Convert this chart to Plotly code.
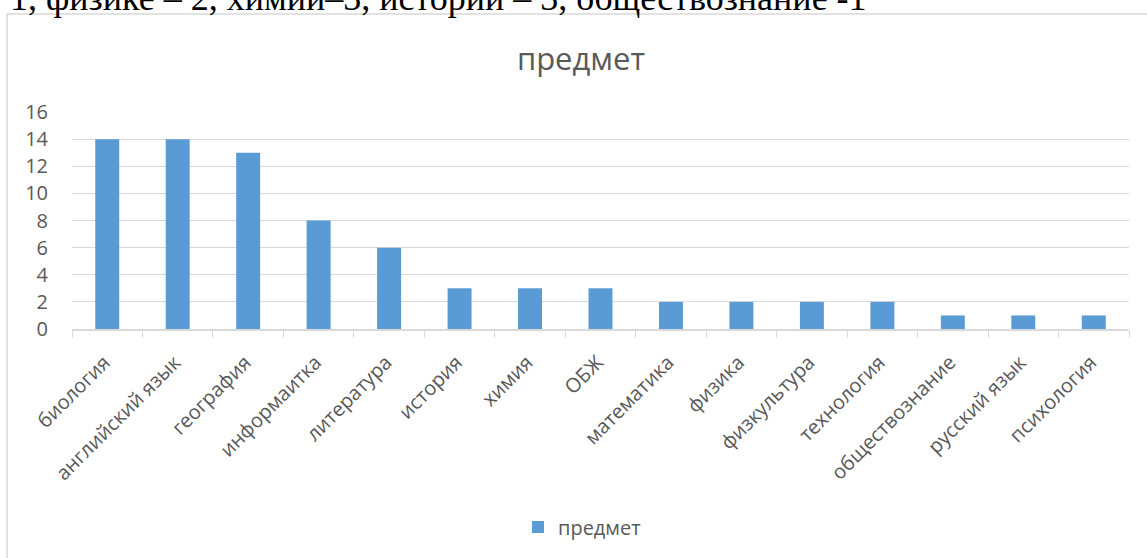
import plotly.graph_objects as go

categories = ["биология", "английский язык", "география", "информаитка", "литература",
              "история", "химия", "ОБЖ", "математика", "физика", "физкультура",
              "технология", "обществознание", "русский язык", "психология"]
values = [14, 14, 13, 8, 6, 3, 3, 3, 2, 2, 2, 2, 1, 1, 1]
series_name = "предмет"
chart_title = "предмет"
y_ticks = [0, 2, 4, 6, 8, 10, 12, 14, 16]
doc_text = "1, физике – 2, химии–3, истории – 3, обществознание -1"

W, H = 1147, 558
L, R, T, B = 72, 18, 112, 229
pw, ph = W - L - R, H - T - B

def px_x(x):
    return (x - L) / pw

def px_y(y):
    return (H - B - y) / ph

gray = "#595959"
grid = "#d9d9d9"

fig = go.Figure()
fig.add_trace(go.Bar(x=categories, y=values, name=series_name,
                     marker=dict(color="#5b9bd5", line=dict(width=0)),
                     showlegend=True))

fig.update_layout(
    width=W, height=H,
    margin=dict(l=L, r=R, t=T, b=B, autoexpand=False),
    paper_bgcolor="white", plot_bgcolor="white",
    bargap=0.66,
    font=dict(family="Open Sans", color=gray),
    showlegend=True,
    legend=dict(orientation="h", x=px_x(582), xanchor="center", xref="paper",
                y=px_y(527), yanchor="middle",
                font=dict(family="Open Sans", size=20, color=gray)),
    title=dict(text=chart_title, x=px_x(581), xanchor="center", xref="paper",
               y=1 - 59 / H, yanchor="middle",
               font=dict(family="Open Sans", size=31, color=gray)),
)

fig.update_xaxes(
    type="category", tickangle=-45,
    tickfont=dict(family="Open Sans", size=20, color=gray),
    showline=True, linecolor=grid, linewidth=1.5,
    ticks="outside", tickson="boundaries", tickcolor=grid, ticklen=7, tickwidth=1,
    showgrid=False, ticklabelstandoff=12, ticklabelshift=-3,
)
fig.update_yaxes(
    range=[0, 16], tickvals=y_ticks,
    tickfont=dict(family="Open Sans", size=20, color=gray),
    showgrid=True, gridcolor=grid, gridwidth=1,
    zeroline=False, showline=False, ticks="", ticklabelstandoff=23,
)

fig.add_shape(type="rect", xref="paper", yref="paper",
              x0=px_x(7), x1=px_x(1190), y0=px_y(14), y1=px_y(600),
              line=dict(color=grid, width=1.5), fillcolor="rgba(0,0,0,0)", layer="below")

fig.add_annotation(text=doc_text, xref="paper", yref="paper",
                   x=px_x(8), xanchor="left", y=px_y(20), yanchor="bottom",
                   showarrow=False,
                   font=dict(family="Liberation Serif", size=36, color="black"))

fig.write_html("out.html", config={"displayModeBar": False},
               post_script="document.body.style.margin='0';document.body.style.overflow='hidden';")
